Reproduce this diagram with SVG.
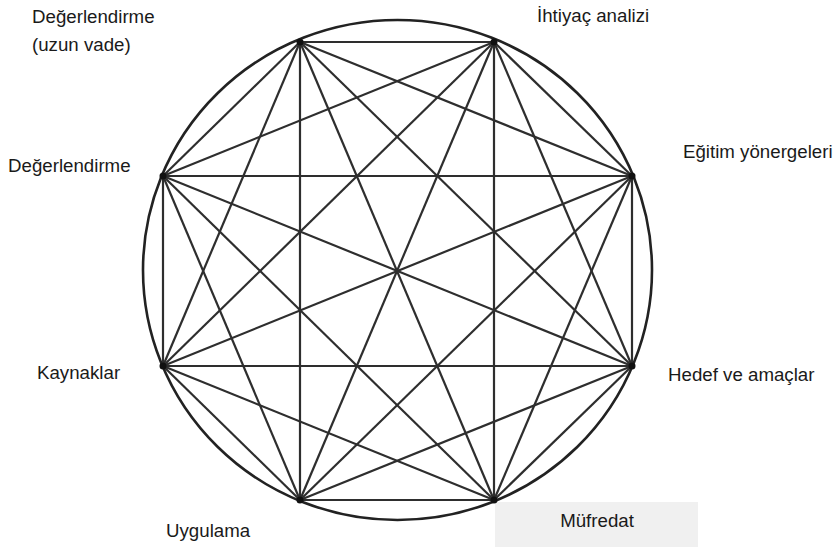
<svg xmlns="http://www.w3.org/2000/svg" width="838" height="547" viewBox="0 0 838 547">
<style>
.lbl{font-family:"Liberation Sans",Arial,sans-serif;font-size:18.7px;fill:#1a1a1a}
.edge{stroke:#2e2e2e;stroke-width:2.2;fill:none}
.ring{stroke:#222;stroke-width:2.6;fill:none}
.dot{fill:#111}
</style>
<rect width="838" height="547" fill="#fff"/>
<rect x="495" y="502" width="203" height="45" fill="#f0f0f0"/>
<ellipse class="ring" cx="397.5" cy="270" rx="254.5" ry="250"/>
<g id="connectors">
<line class="edge" x1="300" y1="42" x2="494" y2="42"/>
<line class="edge" x1="300" y1="42" x2="632" y2="176"/>
<line class="edge" x1="300" y1="42" x2="632" y2="366"/>
<line class="edge" x1="300" y1="42" x2="494" y2="500"/>
<line class="edge" x1="300" y1="42" x2="300" y2="500"/>
<line class="edge" x1="300" y1="42" x2="163" y2="366"/>
<line class="edge" x1="300" y1="42" x2="163" y2="176"/>
<line class="edge" x1="494" y1="42" x2="632" y2="176"/>
<line class="edge" x1="494" y1="42" x2="632" y2="366"/>
<line class="edge" x1="494" y1="42" x2="494" y2="500"/>
<line class="edge" x1="494" y1="42" x2="300" y2="500"/>
<line class="edge" x1="494" y1="42" x2="163" y2="366"/>
<line class="edge" x1="494" y1="42" x2="163" y2="176"/>
<line class="edge" x1="632" y1="176" x2="632" y2="366"/>
<line class="edge" x1="632" y1="176" x2="494" y2="500"/>
<line class="edge" x1="632" y1="176" x2="300" y2="500"/>
<line class="edge" x1="632" y1="176" x2="163" y2="366"/>
<line class="edge" x1="632" y1="176" x2="163" y2="176"/>
<line class="edge" x1="632" y1="366" x2="494" y2="500"/>
<line class="edge" x1="632" y1="366" x2="300" y2="500"/>
<line class="edge" x1="632" y1="366" x2="163" y2="366"/>
<line class="edge" x1="632" y1="366" x2="163" y2="176"/>
<line class="edge" x1="494" y1="500" x2="300" y2="500"/>
<line class="edge" x1="494" y1="500" x2="163" y2="366"/>
<line class="edge" x1="494" y1="500" x2="163" y2="176"/>
<line class="edge" x1="300" y1="500" x2="163" y2="366"/>
<line class="edge" x1="300" y1="500" x2="163" y2="176"/>
<line class="edge" x1="163" y1="366" x2="163" y2="176"/>
</g>
<g id="n-degerlendirme-uzun">
<circle class="dot" cx="300" cy="42" r="3.5"/>
<text class="lbl" x="32" y="23">Değerlendirme</text>
<text class="lbl" x="32" y="51">(uzun vade)</text>
</g>
<g id="n-ihtiyac">
<circle class="dot" cx="494" cy="42" r="3.5"/>
<text class="lbl" x="537" y="22">İhtiyaç analizi</text>
</g>
<g id="n-egitim">
<circle class="dot" cx="632" cy="176" r="3.5"/>
<text class="lbl" x="683" y="158">Eğitim yönergeleri</text>
</g>
<g id="n-hedef">
<circle class="dot" cx="632" cy="366" r="3.5"/>
<text class="lbl" x="668" y="381">Hedef ve amaçlar</text>
</g>
<g id="n-mufredat">
<circle class="dot" cx="494" cy="500" r="3.5"/>
<text class="lbl" x="597" y="527" text-anchor="middle">Müfredat</text>
</g>
<g id="n-uygulama">
<circle class="dot" cx="300" cy="500" r="3.5"/>
<text class="lbl" x="166" y="537">Uygulama</text>
</g>
<g id="n-kaynaklar">
<circle class="dot" cx="163" cy="366" r="3.5"/>
<text class="lbl" x="37" y="379">Kaynaklar</text>
</g>
<g id="n-degerlendirme">
<circle class="dot" cx="163" cy="176" r="3.5"/>
<text class="lbl" x="8" y="172">Değerlendirme</text>
</g>
</svg>
